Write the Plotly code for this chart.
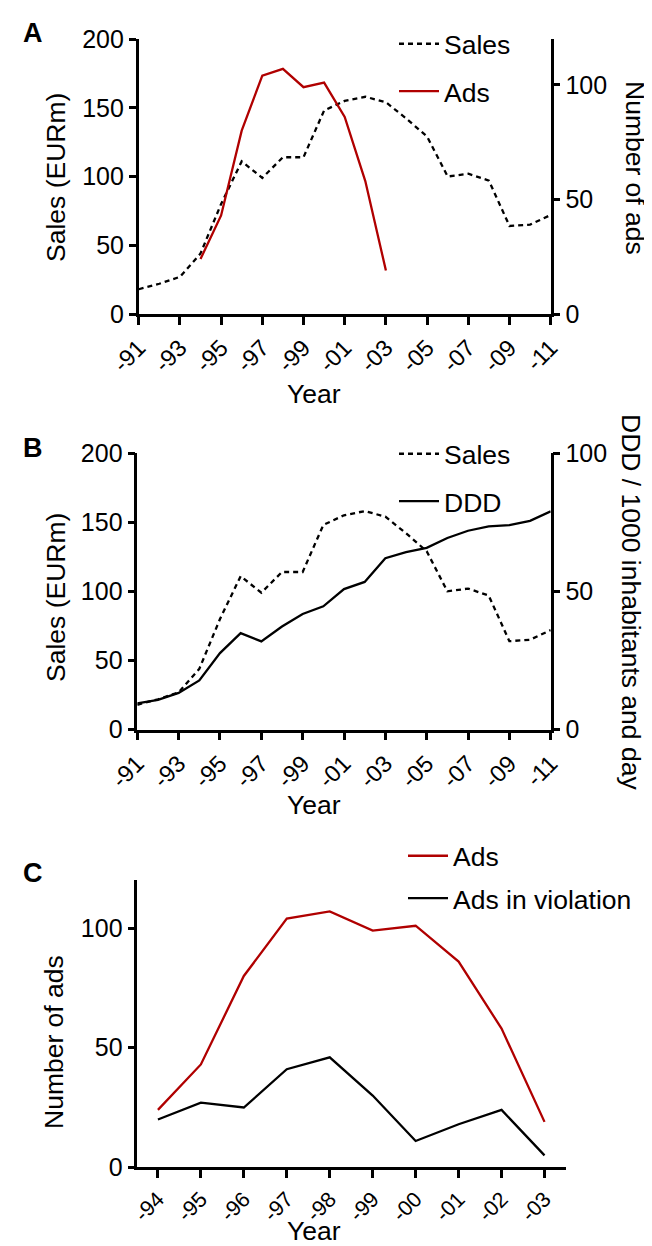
import plotly.graph_objects as go

W, H = 652, 1246

# ---------------- data ----------------
years_ab = list(range(1991, 2012))
sales = [18, 22, 27, 44, 80, 111, 99, 114, 114, 148, 155, 158, 154, 142, 129,
         100, 102, 97, 64, 65, 72]
ddd = [9.5, 10.8, 13.3, 17.8, 27.7, 34.9, 31.9, 37.3, 41.8, 44.6, 50.8, 53.4,
       62, 64.2, 65.7, 69.3, 71.9, 73.5, 73.9, 75.5, 78.9]
years_ads = list(range(1994, 2004))
ads = [24, 43, 80, 104, 107, 99, 101, 86, 58, 19]
ads_violation = [20, 27, 25, 41, 46, 30, 11, 18, 24, 5]

tick_years_ab = list(range(1991, 2012, 2))
tick_text_ab = ["-91", "-93", "-95", "-97", "-99", "-01", "-03", "-05", "-07", "-09", "-11"]
tick_years_c = list(range(1994, 2004))
tick_text_c = ["-94", "-95", "-96", "-97", "-98", "-99", "-00", "-01", "-02", "-03"]

RED = "#B00000"
FONT = "Liberation Sans, Arial, sans-serif"
XTICKF = 23.5
YTICKF = 25
TITLEF = 26.5


def px(x):
    return x / W


def py(y):
    return 1 - y / H


fig = go.Figure()

# Panel A
fig.add_trace(go.Scatter(x=years_ab, y=sales, mode="lines", name="Sales",
                         line=dict(color="black", width=2.3, dash="5px,4px"),
                         xaxis="x", yaxis="y", legend="legend", legendgroup="a1"))
fig.add_trace(go.Scatter(x=years_ads, y=ads, mode="lines", name="Ads",
                         line=dict(color=RED, width=2.3),
                         xaxis="x", yaxis="y2", legend="legend", legendgroup="a2"))
# Panel B
fig.add_trace(go.Scatter(x=years_ab, y=sales, mode="lines", name="Sales",
                         line=dict(color="black", width=2.3, dash="5px,4px"),
                         xaxis="x2", yaxis="y3", legend="legend2", legendgroup="b1"))
fig.add_trace(go.Scatter(x=years_ab, y=ddd, mode="lines", name="DDD",
                         line=dict(color="black", width=2.3),
                         xaxis="x2", yaxis="y4", legend="legend2", legendgroup="b2"))
# Panel C
fig.add_trace(go.Scatter(x=years_ads, y=ads, mode="lines", name="Ads",
                         line=dict(color=RED, width=2.3),
                         xaxis="x3", yaxis="y5", legend="legend3", legendgroup="c1"))
fig.add_trace(go.Scatter(x=years_ads, y=ads_violation, mode="lines", name="Ads in violation",
                         line=dict(color="black", width=2.3),
                         xaxis="x3", yaxis="y5", legend="legend3", legendgroup="c2"))

axis_common = dict(showline=True, linecolor="black", linewidth=2.5, showgrid=False,
                   zeroline=False, ticks="outside", tickcolor="black", tickwidth=2.5,
                   automargin=False, fixedrange=True)

xa = dict(axis_common, ticklen=8, tickangle=-45, tickmode="array",
          tickfont=dict(size=XTICKF, color="black", family=FONT))
ya = dict(axis_common, ticklen=7, tickmode="array",
          tickfont=dict(size=YTICKF, color="black", family=FONT))

fig.update_layout(
    width=W, height=H, margin=dict(l=0, r=0, t=0, b=0),
    paper_bgcolor="white", plot_bgcolor="white", template="none",
    font=dict(family=FONT, color="black"),
    xaxis=dict(xa, domain=[px(130.7), px(542.7)], anchor="y", range=[1991, 2011],
               tickvals=tick_years_ab, ticktext=tick_text_ab),
    yaxis=dict(ya, domain=[py(306), py(31)], anchor="x", range=[0, 200],
               tickvals=[0, 50, 100, 150, 200]),
    yaxis2=dict(ya, overlaying="y", side="right", anchor="x", range=[0, 120],
                tickvals=[0, 50, 100]),
    xaxis2=dict(xa, domain=[px(129.3), px(542.7)], anchor="y3", range=[1991, 2011],
                tickvals=tick_years_ab, ticktext=tick_text_ab),
    yaxis3=dict(ya, domain=[py(721.7), py(445)], anchor="x2", range=[0, 200],
                tickvals=[0, 50, 100, 150, 200]),
    yaxis4=dict(ya, overlaying="y3", side="right", anchor="x2", range=[0, 100],
                tickvals=[0, 50, 100]),
    xaxis3=dict(xa, domain=[px(129.3), px(558)], anchor="y5", range=[1993.52, 2003.5],
                tickvals=tick_years_c, ticktext=tick_text_c,
                tickfont=dict(size=21.5, color="black", family=FONT)),
    yaxis5=dict(ya, domain=[py(1159.3), py(872.3)], anchor="x3", range=[0, 120],
                tickvals=[0, 50, 100]),
    legend=dict(x=px(386), y=py(12), xanchor="left", yanchor="top",
                font=dict(size=TITLEF, family=FONT), bgcolor="rgba(0,0,0,0)",
                tracegroupgap=10, itemwidth=40),
    legend2=dict(x=px(386), y=py(422), xanchor="left", yanchor="top",
                 font=dict(size=TITLEF, family=FONT), bgcolor="rgba(0,0,0,0)",
                 tracegroupgap=10, itemwidth=40),
    legend3=dict(x=px(395), y=py(824), xanchor="left", yanchor="top",
                 font=dict(size=TITLEF, family=FONT), bgcolor="rgba(0,0,0,0)",
                 tracegroupgap=5, itemwidth=40),
    showlegend=True,
)

ann = []


def label(text, x, y, size=TITLEF, angle=0):
    ann.append(dict(text=text, x=px(x), y=py(y), xref="paper", yref="paper",
                    xanchor="center", yanchor="middle", showarrow=False,
                    textangle=angle, font=dict(size=size, family=FONT, color="black")))


label("<b>A</b>", 25, 25, size=27)
label("<b>B</b>", 25, 440, size=27)
label("<b>C</b>", 25, 865, size=27)
label("Year", 306, 386)
label("Year", 306, 797)
label("Year", 306, 1223)
label("Sales (EURm)", 48, 170, angle=-90)
label("Sales (EURm)", 48, 590, angle=-90)
label("Number of ads", 46, 1034, angle=-90)
label("Number of ads", 627, 160, angle=90)
label("DDD / 1000 inhabitants and day", 623, 594, angle=90)

fig.update_layout(annotations=ann)

fig.write_html("out.html")
